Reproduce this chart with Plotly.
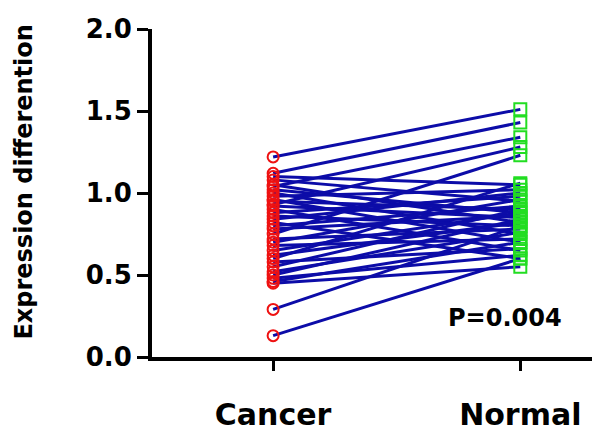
import plotly.graph_objects as go

groups = ["Cancer", "Normal"]
cancer = [1.22, 1.12, 1.10, 1.08, 1.05, 1.04, 1.02, 1.00, 0.98, 0.96, 0.95, 0.93,
          0.92, 0.90, 0.88, 0.86, 0.84, 0.82, 0.80, 0.78, 0.75, 0.72, 0.70, 0.68,
          0.65, 0.62, 0.60, 0.58, 0.55, 0.52, 0.50, 0.48, 0.46, 0.45, 0.29, 0.13]
normal = [1.51, 1.43, 1.05, 0.95, 0.82, 1.34, 0.88, 0.75, 1.02, 0.70, 0.90, 1.28,
          0.85, 0.65, 0.98, 0.80, 1.00, 0.60, 0.92, 0.86, 1.23, 0.78, 0.96, 0.72,
          0.88, 0.82, 1.06, 0.66, 0.90, 0.76, 0.84, 0.62, 0.70, 0.55, 0.80, 0.60]
yticks = [0.0, 0.5, 1.0, 1.5, 2.0]
ytick_text = ["0.0", "0.5", "1.0", "1.5", "2.0"]
p_text = "P=0.004"

lx, ly = [], []
for c, n in zip(cancer, normal):
    lx += [0, 1, None]
    ly += [c, n, None]

fig = go.Figure()
fig.add_trace(go.Scatter(x=lx, y=ly, mode="lines",
                         line=dict(color="#0c0ca8", width=3), showlegend=False,
                         hoverinfo="skip"))
fig.add_trace(go.Scatter(x=[0] * len(cancer), y=cancer, mode="markers",
                         marker=dict(symbol="circle-open", size=11, color="#ee1111",
                                     line=dict(width=2, color="#ee1111")),
                         showlegend=False))
fig.add_trace(go.Scatter(x=[1] * len(normal), y=normal, mode="markers",
                         marker=dict(symbol="square-open", size=12, color="#22dd22",
                                     line=dict(width=2, color="#22dd22")),
                         showlegend=False))

font_b = "DejaVu Sans"
fig.update_layout(
    width=600, height=435,
    margin=dict(l=144, r=16, t=21, b=86),
    plot_bgcolor="white", paper_bgcolor="white",
    xaxis=dict(range=[-0.49, 1.29], tickvals=[0, 1], ticktext=groups,
               automargin=False,
               showgrid=False, zeroline=False, showline=True,
               linecolor="black", linewidth=4, ticks="outside", ticklen=10,
               tickwidth=3, tickcolor="black", ticklabelstandoff=18,
               tickfont=dict(family=font_b, size=30, color="black", weight="bold")),
    yaxis=dict(range=[0, 2.0], tickvals=yticks, ticktext=ytick_text,
               automargin=False,
               showgrid=False, zeroline=False, showline=True,
               linecolor="black", linewidth=4, ticks="outside", ticklen=11,
               tickwidth=3, tickcolor="black",
               tickfont=dict(family=font_b, size=26, color="black", weight="bold")),
    annotations=[
        dict(text="Expression differention", xref="paper", yref="paper",
             x=-0.293, y=0.535, textangle=-90, showarrow=False,
             xanchor="center", yanchor="middle",
             font=dict(family=font_b, size=24, color="black", weight="bold")),
        dict(text=p_text, xref="x", yref="y", x=0.94, y=0.24, showarrow=False,
             xanchor="center", yanchor="middle",
             font=dict(family=font_b, size=24, color="black", weight="bold")),
    ],
)

fig.write_html("out.html")
